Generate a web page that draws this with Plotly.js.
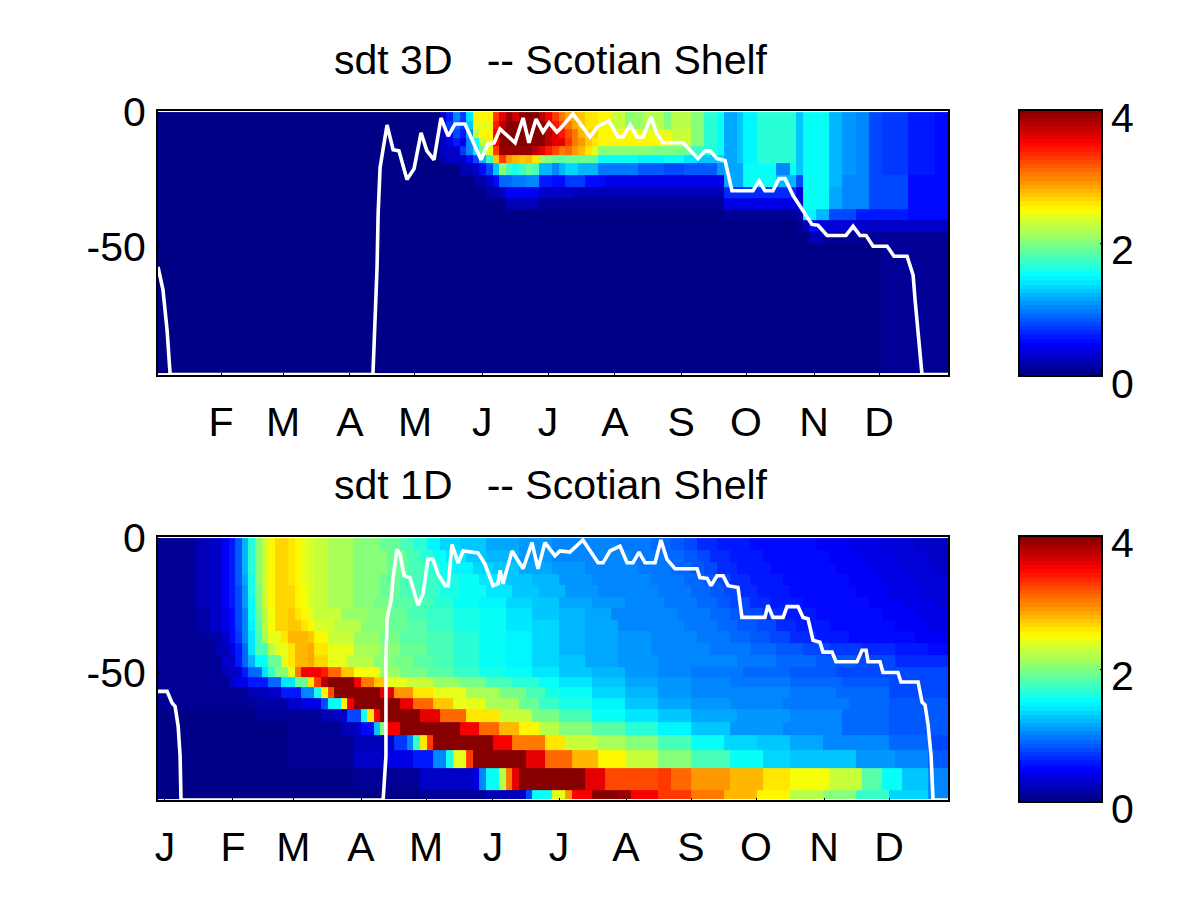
<!DOCTYPE html>
<html><head><meta charset="utf-8">
<script src="https://cdn.plot.ly/plotly-3.0.1.min.js"></script>
<style>html,body{margin:0;padding:0;background:#fff}</style></head>
<body><div id="chart" style="width:1200px;height:900px"></div>
<script>
// Values. Each row lists: first time cell, value held from that cell on.
const cells = 120, daysPerCell = 365.5 / 120;
const monthsTop = ['F','M','A','M','J','J','A','S','O','N','D'];
const monthDaysTop = [30,58.6,89.5,119.5,150.5,180.9,211.8,242.3,272.3,303.7,333.7];
const monthsBottom = ['J','F','M','A','M','J','J','A','S','O','N','D'];
const monthDaysBottom = [4.1,35.5,63.3,94.6,124.6,155.5,186,216.9,246.9,276.9,308.3,338.3];
const depthTicks = [0,-50];
const depthLabels = ['0','-50'];

// ---- 3D panel ----
const depthEdges3D = [0,-3.3,-6.3,-9.5,-12.5,-16,-19,-23.5,-27.7,-32,-36,-40,-44.6,-49,-97];
const tail3D = [81,2,83,1.65,85,1.55,86,1.15,88,1.3,89,1.45,91,1.65,97,1.3,98,1.5,102,1.2,104,1.1,106,1,108,.8,110,.7,114,.6,118,.5];
const t0 = [0,.05,43,.25,44,.6,45,1,46,.7,47,1.4,48,2.5,51,3.3,52,3.6,53,3.9,54,3.7,55,3.9,56,4,58,3.8,59,3.5,60,3.3,61,3,62,2.85,63,2.75,64,2.7,65,2.6,67,2.5,69,2.25,71,2,72,2.1,74,2.2,77,1.95,78,2.2].concat(tail3D);
const t1 = [0,.05,43,.3,44,.7,45,.9,46,.7,47,1.3,48,2.4,51,3.4,52,3.8,53,4,59,3.7,60,3.4,61,3.2,62,3,63,2.85,64,2.7,65,2.6,67,2.5,69,2.3,71,2.05,72,2.1,74,2.2,77,2,78,2.2].concat(tail3D);
const t2 = [0,.05,43,.3,44,.5,45,.8,46,.6,47,1.1,48,2.3,49,2.5,51,3.5,52,4,59,3.8,60,3.6,61,3.4,62,3.2,63,3,64,2.8,65,2.65,67,2.5,72,2.4,78,2.25].concat(tail3D);
const t3 = [0,.05,43,.2,44,.4,45,.6,46,.4,47,1,48,1.5,49,2.3,50,2.5,51,3.5,52,4,59,3.8,60,3.6,62,3.3,63,3,64,2.9,65,2.7,66,2.6,67,2.5,78,2.3].concat(tail3D);
const t4 = [0,.05,43,.3,46,.7,47,1,48,1.4,49,1.9,50,2.4,51,3.3,52,3.9,57,3.8,58,3.6,59,3.4,60,3.2,61,3,62,3.1,63,2.9,64,2.8,65,2.6,66,2.4,67,2.05,75,1.95,80,1.9,81,1.7,83,1.65,85,1.55,86,1.15,88,1.3,89,1.45,91,1.65,97,1.3,98,1.5,102,1.2,104,1.1,106,1,108,.8,110,.7,114,.6,118,.5];
const t5 = [0,.05,43,.15,44,.3,47,.5,48,.8,49,1.2,50,1.7,51,2.7,52,3.3,53,2.9,54,2.8,55,2.7,56,2.8,57,2.6,58,2.1,59,2,60,1.9,61,1.85,62,1.9,67,1.55,73,1.45,77,1.5,80,1.4,82,1.3,85,1.35,86,1.15,88,1.3,89,1.45,91,1.65,97,1.3,98,1.5,102,1.2,104,1.1,106,1,108,.8,110,.7,114,.6,118,.5];
const t6 = [0,.05,46,.2,48,.3,49,.5,50,.8,51,1.3,52,2,53,1.7,54,1.6,55,1.7,56,1.9,57,1.8,58,1.2,60,1.05,61,1.2,62,1.35,64,1.2,67,.95,73,.85,77,.75,80,.85,85,1.1,86,1.15,89,1.5,94,1,96,1.55,97,1.3,98,1.5,102,1.2,104,1.1,106,1,108,.8,110,.7,114,.6,118,.5];
const t7 = [0,.05,48,.15,50,.3,51,.5,52,.9,54,.95,56,1,58,.6,60,.5,61,.55,62,.7,65,.55,68,.4,86,1.15,89,1.5,94,1.2,97,.8,98,1.5,102,1.2,104,1.05,108,.75,114,.55];
const t8 = [0,.05,50,.15,52,.3,53,.45,58,.3,63,.22,86,.65,97,.35,98,1.5,102,1.15,104,1.05,108,.75,114,.55];
const t9 = [0,.05,53,.2,58,.12,86,.4,97,.3,98,1.5,102,1.15,104,1.05,108,.75,114,.55];
const t10 = [0,.05,86,.1,97,.15,98,1.45,100,1.2,102,.8,106,.6,114,.5];
const t11 = [0,.05,97,.1,98,.2,99,.5,100,.35,106,.3,110,.25];
const t12 = [0,.05,99,.2,101,.12];
const t13 = [0,.05,110,.07];
const rows3D = [t0,t1,t2,t3,t4,t5,t6,t7,t8,t9,t10,t11,t12,t13];

const mldDays3D = [.9,3.2,5.1,6.5,100.1,101,102,102.5,103.4,106.6,109.4,112.1,115.8,119.1,122.3,125,128.3,131.5,134.8,138,142.6,150,153.2,156,158.8,165.7,169.4,172.1,175.4,178.6,181.4,185,186.4,192.4,200.3,204,209,213.2,215.5,218.8,222,224.8,228.4,231.2,234,243.2,250.1,253.4,255.7,258.9,262.6,265.8,275.5,278.3,281,284.7,287.5,290.3,294,302.7,305.5,309.7,318.4,321.7,324.9,327.7,330.9,337.4,340.6,346.6,349.4,350.3,351.7,353.5,365.5];
const mldDepth3D = [-57.5,-66,-81,-97.4,-97.4,-81,-57.5,-37.6,-20.6,-4.8,-14,-14.4,-25,-21,-7.7,-14.4,-17.7,-2.2,-8.9,-4.4,-4.4,-17.7,-11.8,-11.4,-6.3,-11.4,-2.2,-11.4,-2.6,-7.4,-4,-7.4,-6.3,-.7,-9.2,-5.2,-3.3,-9.2,-9.2,-4.8,-9.2,-9.2,-1.8,-8.1,-11.4,-11.4,-17.3,-14.4,-14.4,-17.3,-18,-29.2,-29.2,-25.5,-29.2,-29.2,-24.7,-24.7,-31,-41.7,-42,-45.8,-45.8,-42.4,-45.8,-45.8,-49.8,-49.8,-53.5,-53.5,-60.5,-69.7,-82,-97.4,-97.4];

// ---- 1D panel ----
const depthEdges1D = [0,-4.4,-8.9,-13.3,-17.3,-21.8,-26.2,-30.6,-34.7,-39.1,-43.5,-48,-51.7,-55.4,-59.4,-63.5,-68.3,-73.4,-79,-85.6,-93.7,-97];
const r0 = [0,.1,6,.2,8,.3,10,.45,11,.6,12,.85,13,1.2,14,1.65,15,2,16,2.25,17,2.5,18,2.65,20,2.6,21,2.5,22,2.42,23,2.35,24,2.25,26,2.15,30,2,34,1.9,37,1.8,39,1.65,41,1.45,43,1.35,46,1.25,50,1.15,55,1.1,60,1.05,65,1,70,.95,75,.9,78,.85,80,.75,82,.65,85,.6,90,.55,95,.5,100,.45,105,.4,110,.35,115,.3];
const r1 = [0,.1,6,.2,8,.3,10,.45,11,.6,12,.85,13,1.2,14,1.65,15,2,16,2.25,17,2.5,18,2.65,20,2.6,21,2.5,22,2.42,23,2.35,24,2.25,26,2.15,30,2,35,1.9,38,1.8,40,1.65,42,1.5,44,1.4,47,1.3,50,1.2,55,1.12,60,1.05,66,1,72,.95,77,.9,80,.85,82,.75,84,.65,87,.6,92,.55,97,.5,102,.45,107,.4,112,.35,117,.3];
const r2 = [0,.1,6,.2,8,.3,10,.45,11,.6,12,.85,13,1.2,14,1.65,15,2,16,2.25,17,2.5,18,2.65,20,2.6,21,2.5,22,2.42,23,2.35,24,2.25,26,2.15,30,2,35,1.9,38,1.8,41,1.65,43,1.55,45,1.45,48,1.35,51,1.25,55,1.15,60,1.1,65,1.05,69,1,73,.95,78,.9,81,.85,83,.75,85,.65,88,.6,93,.55,98,.5,103,.45,108,.4,113,.35,118,.3];
const r3 = [0,.1,6,.2,8,.3,10,.45,11,.6,12,.85,13,1.15,14,1.6,15,2,16,2.25,17,2.5,18,2.65,20,2.6,21,2.5,22,2.42,23,2.35,24,2.25,26,2.15,30,2,34,1.9,37,1.8,40,1.7,43,1.6,46,1.5,49,1.4,53,1.3,57,1.2,61,1.1,66,1.05,71,1,75,.95,80,.9,83,.85,85,.75,87,.65,90,.6,95,.55,100,.5,105,.45,110,.4,115,.35];
const r4 = [0,.1,6,.2,8,.3,10,.45,11,.6,12,.8,13,1.1,14,1.6,15,1.95,16,2.25,17,2.5,18,2.65,20,2.65,21,2.55,22,2.45,23,2.35,24,2.25,26,2.15,30,2.02,34,1.9,37,1.8,40,1.7,43,1.6,46,1.5,50,1.4,54,1.3,58,1.2,62,1.12,67,1.05,72,1,76,.95,81,.9,84,.85,86,.75,88,.65,91,.6,96,.55,101,.5,106,.45,111,.4,116,.35];
const r5 = [0,.1,6,.2,8,.3,10,.45,11,.6,12,.8,13,1.1,14,1.55,15,1.95,16,2.25,17,2.5,18,2.65,20,2.65,21,2.55,22,2.45,23,2.35,24,2.25,26,2.15,30,2.05,33,1.95,36,1.85,39,1.75,42,1.65,45,1.55,49,1.45,53,1.35,57,1.25,61,1.15,66,1.08,71,1,77,.95,82,.9,85,.85,87,.75,90,.65,93,.6,98,.55,103,.5,108,.45,113,.4,118,.35];
const r6 = [0,.1,6,.15,8,.25,10,.4,11,.55,12,.75,13,1.05,14,1.5,15,1.9,16,2.2,17,2.45,18,2.65,20,2.7,21,2.6,22,2.5,23,2.4,24,2.25,28,2.1,32,2,35,1.9,38,1.8,41,1.7,45,1.6,49,1.5,53,1.4,57,1.3,61,1.2,65,1.15,69,1.05,74,1,79,.95,84,.9,87,.85,89,.75,92,.65,95,.6,100,.55,105,.5,110,.45,115,.4];
const r7 = [0,.1,6,.15,8,.25,10,.4,11,.55,12,.75,13,1.05,14,1.45,15,1.85,16,2.2,17,2.45,18,2.65,20,2.72,22,2.6,23,2.5,24,2.35,27,2.2,31,2.05,35,1.92,38,1.82,41,1.72,45,1.62,49,1.52,53,1.42,57,1.32,61,1.22,65,1.15,70,1.05,75,1,80,.95,85,.9,88,.85,91,.75,94,.65,97,.6,102,.55,107,.5,112,.45,117,.4];
const r8 = [0,.1,8,.15,10,.3,11,.5,12,.7,13,1,14,1.4,15,1.8,16,2.15,17,2.4,19,2.6,20,2.8,23,2.7,24,2.5,26,2.3,30,2.1,34,1.95,37,1.85,41,1.75,45,1.65,49,1.55,53,1.45,57,1.32,61,1.22,65,1.15,70,1.08,75,1.02,82,.95,87,.9,90,.85,93,.75,96,.65,100,.6,105,.55,110,.5,115,.45];
const r9 = [0,.1,9,.2,11,.4,12,.6,13,.9,14,1.4,15,1.8,17,2.2,18,2.4,20,2.6,21,2.8,23,2.85,24,2.6,26,2.4,30,2.15,34,2,37,1.88,41,1.78,45,1.66,49,1.56,53,1.45,57,1.33,61,1.23,65,1.15,70,1.08,75,1.02,84,.95,90,.9,94,.85,98,.8,102,.72,107,.65,112,.6,117,.55];
const r10 = [0,.1,10,.3,12,.6,13,.9,14,1.2,15,1.5,17,1.9,19,2.4,20,2.6,21,2.75,23,2.85,24,2.65,26,2.4,29,2.2,33,2.05,36,1.95,39,1.85,42,1.75,45,1.65,49,1.55,53,1.45,57,1.35,61,1.25,65,1.15,70,1.1,76,1.05,82,1,88,.95,94,.9,100,.85,106,.75,112,.65];
const r11 = [0,.08,10,.2,11,.3,13,.6,14,.9,16,1.4,17,1.7,18,2,20,2.4,21,3,22,3.5,25,3.4,26,3.1,28,2.7,30,2.45,34,2.1,37,1.95,41,1.85,45,1.72,49,1.6,53,1.5,57,1.4,61,1.3,66,1.2,71,1.1,76,1.02,81,.95,89,.9,96,.85,103,.8,111,.75];
const r12 = [0,.07,11,.25,12,.4,14,.6,17,.9,19,1.4,21,1.9,23,2.6,24,3.3,25,3.8,26,4,30,3.5,31,3,33,2.7,35,2.4,38,2.25,42,2.1,46,1.95,50,1.8,54,1.65,58,1.5,61,1.4,66,1.25,71,1.15,76,1.08,81,1,87,.95,96,.9,104,.85,111,.8];
const r13 = [0,.07,14,.2,17,.3,19,.6,22,1,24,1.6,25,2.5,26,3.2,27,4,34,3.6,36,2.9,39,2.6,42,2.4,47,2.15,52,1.95,56,1.75,59,1.6,61,1.5,66,1.35,71,1.2,76,1.12,81,1.05,88,1,96,.95,103,.88,111,.8];
const r14 = [0,.07,15,.15,20,.25,22,.4,25,.8,26,1.5,28,2.5,29,3.5,30,4,37,3.6,39,3.1,42,2.7,45,2.4,50,2.15,55,1.9,58,1.72,61,1.6,66,1.45,71,1.3,76,1.18,81,1.1,87,1.02,95,.95,105,.9,111,.85];
const r15 = [0,.05,15,.1,25,.2,27,.3,29,.8,31,1.6,32,2.6,33,3.5,34,4,40,3.6,43,3.1,47,2.6,52,2.25,57,1.95,61,1.75,66,1.55,71,1.4,76,1.25,81,1.15,88,1.08,96,1,104,.92,111,.85];
const r16 = [0,.05,20,.1,28,.2,30,.3,31,.5,33,1.3,34,2,35,3.5,37,4,46,3.5,49,3.1,52,2.8,55,2.5,58,2.2,61,2.05,66,1.85,71,1.65,76,1.45,81,1.25,87,1.12,95,1,104,.92,111,.85];
const r17 = [0,.05,20,.1,30,.2,35,.3,36,.7,38,1,39,1.7,40,2.6,41,3.3,42,4,51,3.5,54,3,59,2.6,62,2.3,67,2.15,71,2.05,76,1.8,81,1.5,86,1.35,91,1.25,96,1.15,101,1.05,111,.9,117,.75];
const r18 = [0,.05,20,.1,30,.25,35,.4,39,.6,42,1,44,1.6,45,2.4,47,3.3,48,4,56,3.6,59,3.1,63,2.75,67,2.5,71,2.25,76,2,81,1.8,87,1.5,92,1.35,96,1.25,106,1.1,112,1,117,.85];
const r19 = [0,.05,30,.1,40,.25,48,.4,49,1,50,1.5,52,2.2,53,3,54,3.6,55,4,65,3.6,68,3.2,76,3.3,78,3.1,81,2.9,87,2.8,92,2.6,96,2.45,102,2.25,107,1.85,110,1.5,113,1.25,117,1.05];
const r20 = [0,.05,40,.1,50,.2,55,.3,56,.8,57,1.5,60,2.4,62,2.9,63,3.5,66,4,70,3.9,72,3.5,76,3.3,81,3,86,2.8,91,2.5,96,2.2,101,2,106,1.7,111,1.35,117,1.05];
const rows1D = [r0,r1,r2,r3,r4,r5,r6,r7,r8,r9,r10,r11,r12,r13,r14,r15,r16,r17,r18,r19,r20];

const mldDays1D = [.9,5.1,7.4,8.8,10.2,11.1,11.5,104.8,106.1,106.1,106.6,108.5,109.4,111.2,112.6,114.5,117.2,118.6,120.9,123.2,125.5,127.8,130.1,133.4,134.8,136.6,139.4,141.7,148.6,151.8,155.5,157.8,158.8,160.1,164.3,169.4,173.5,176.3,179.5,184.1,186.4,191,197,204,206.3,209.5,214.1,217.4,220.1,222.9,225.7,230.3,233,235.8,239.5,249.7,251,254.3,256.1,258.9,261.7,264,268.6,270.4,281,282.4,284.7,289.4,291.2,296.3,298.6,300.9,303.2,306.4,307.8,312,313.8,323.5,325.8,327.7,328.6,334.1,335.5,342.4,343.8,351.7,353.5,354.9,356.3,357.7,358.6,365.5];
const mldDepth1D = [-57,-57,-61.3,-62.6,-70,-81,-97.4,-97.4,-81,-46.6,-30,-23,-14.7,-4.2,-6,-14,-14.7,-18.4,-25,-20.8,-7.9,-7.9,-13.3,-17.7,-17.7,-2.4,-9.3,-4.8,-5.5,-9.7,-17.7,-17,-12,-17,-4.8,-11.4,-1.7,-11.4,-1.7,-6.6,-4.8,-5.2,-.7,-9.2,-9.2,-4.8,-3,-9.2,-9.2,-5.2,-9.2,-9.2,-.7,-7.9,-11.4,-11.4,-14.7,-15,-17.7,-14,-14,-17.7,-18.4,-29.5,-29.5,-25,-29.5,-29.5,-25.5,-25.5,-29.5,-30,-38,-38.7,-42.4,-42.4,-46,-46,-41.7,-41.7,-46,-46,-50,-50,-53.5,-53.5,-61,-62,-69.4,-81,-97.4,-97.4];

// Expand "from cell, value" lists into full rows
function expand(list){
  const out = new Array(cells);
  for(let i=0;i<list.length;i+=2){
    const end = i+2<list.length ? list[i+2] : cells;
    for(let c=list[i];c<end;c++) out[c]=list[i+1];
  }
  return out;
}
const xEdges = Array.from({length:cells+1},(_,i)=>i*daysPerCell);

// MATLAB jet, 64 flat levels
function jetChannel(v){ return Math.round(255*Math.max(0,Math.min(1,1.5-Math.abs(4*v)))); }
const jet = [];
for(let i=0;i<64;i++){
  const v=(i+.5)/64;
  const col='rgb('+jetChannel(v-.75)+','+jetChannel(v-.5)+','+jetChannel(v-.25)+')';
  jet.push([i/64,col],[(i+1)/64,col]);
}

const fontName = 'Liberation Sans, Arial, sans-serif';
const big = {family:fontName,size:41,color:'#000'};
function bar(top,bottom){
  return {x:1019/1200,xanchor:'left',xpad:0,ypad:0,y:1-bottom/900,yanchor:'bottom',
    lenmode:'pixels',len:bottom-top,thicknessmode:'pixels',thickness:83,
    outlinecolor:'#000',outlinewidth:2,tickmode:'array',tickvals:[2],ticktext:[''],
    ticks:'inside',ticklen:3,tickcolor:'#000',showticklabels:false};
}
function heat(edges,rows,xa,ya,top,bottom){
  return {type:'heatmap',x:xEdges,y:edges,z:rows.map(expand),xaxis:xa,yaxis:ya,zmin:0,zmax:4,
    colorscale:jet,colorbar:bar(top,bottom),hoverinfo:'skip'};
}
function mld(x,y,xa,ya){
  return {type:'scatter',mode:'lines',x:x,y:y,xaxis:xa,yaxis:ya,
    line:{color:'#fff',width:3.6},showlegend:false,hoverinfo:'skip'};
}
function xAxis(vals,text,anchor){
  return {domain:[158/1200,948/1200],range:[.9,365.5],anchor:anchor,tickmode:'array',tickvals:vals,ticktext:text,
    ticks:'inside',ticklen:2,tickcolor:'#000',showgrid:false,zeroline:false,showline:true,linecolor:'#000',linewidth:2,
    mirror:true,tickfont:big,ticklabelstandoff:10};
}
function yAxis(top,bottom,anchor){
  return {domain:[1-bottom/900,1-top/900],range:[-97.4,.4],anchor:anchor,tickmode:'array',tickvals:depthTicks,ticktext:depthLabels,
    ticks:'inside',ticklen:2,tickcolor:'#000',showgrid:false,zeroline:false,showline:true,linecolor:'#000',linewidth:2,
    mirror:true,tickfont:big,ticklabelstandoff:2,ticklabelshift:4.5};
}
function note(text,px,py){
  return {text:text,xref:'paper',yref:'paper',x:px/1200,y:1-py/900,xanchor:'center',yanchor:'middle',showarrow:false,font:big};
}
const data = [
  heat(depthEdges3D,rows3D,'x','y',110,376),
  mld(mldDays3D,mldDepth3D,'x','y'),
  heat(depthEdges1D,rows1D,'x2','y2',536,802),
  mld(mldDays1D,mldDepth1D,'x2','y2')
];
const layout = {
  width:1200,height:900,margin:{l:0,r:0,t:0,b:0},paper_bgcolor:'#fff',plot_bgcolor:'#fff',showlegend:false,
  xaxis:xAxis(monthDaysTop,monthsTop,'y'),yaxis:yAxis(111,374.5,'x'),
  xaxis2:xAxis(monthDaysBottom,monthsBottom,'y2'),yaxis2:yAxis(537,800,'x2'),
  annotations:[
    note('sdt 3D\u00a0\u00a0\u00a0-- Scotian Shelf',551,60),
    note('sdt 1D\u00a0\u00a0\u00a0-- Scotian Shelf',551,485),
    note('4',1122,118),note('2',1122,250),note('0',1122,384),
    note('4',1122,543),note('2',1122,676),note('0',1122,809)
  ]
};
Plotly.newPlot('chart',data,layout,{displayModeBar:false,staticPlot:true});
</script></body></html>
